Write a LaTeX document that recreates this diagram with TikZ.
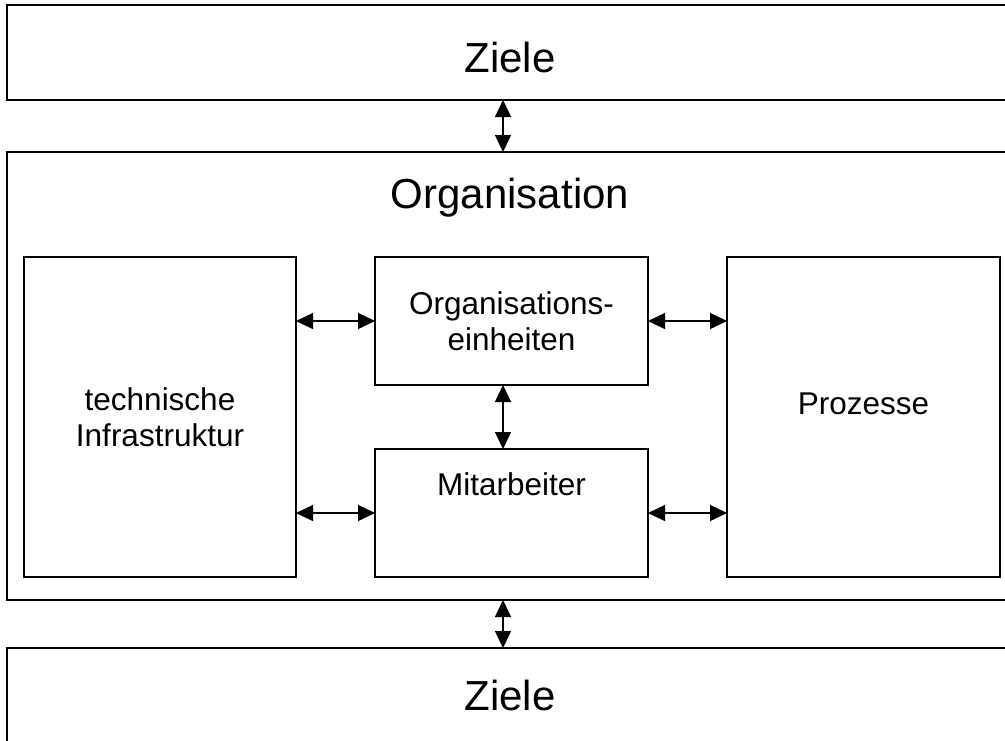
\documentclass[tikz,border=0pt]{standalone}
\usepackage{fontspec}
\setmainfont{Liberation Sans}
\usetikzlibrary{arrows.meta}
\begin{document}
\begin{tikzpicture}[x=1pt,y=-1pt,
  box/.style={draw, line width=1.5pt, inner sep=0pt, outer sep=0pt},
  bigtext/.style={font=\fontsize{42}{48}\selectfont, anchor=center},
  boxtext/.style={font=\fontsize{31.5}{36}\selectfont, align=center},
  link/.style={line width=1.5pt, {Triangle[length=17pt,width=16pt]}-{Triangle[length=17pt,width=16pt]}}]
\useasboundingbox (0,0) rectangle (1005,740);

%Shape: Rectangle [outer boxes]
\node [box, minimum width=1006pt, minimum height=95pt,
  label={[bigtext, yshift=-4.5pt]center:Ziele}] (zieleoben) at (510,52.5) {};
\node [box, minimum width=1006pt, minimum height=448pt,
  label={[bigtext, yshift=-46pt]north:Organisation}] (organisation) at (510,376) {};
\node [box, minimum width=1006pt, minimum height=95pt,
  label={[bigtext]center:Ziele}] (zieleunten) at (510,695.5) {};

%Shape: Rectangle [inner boxes]
\node [box, boxtext, minimum width=272pt, minimum height=320pt] (infra) at (160,417) {technische\\Infrastruktur};
\node [box, boxtext, minimum width=273pt, minimum height=128pt] (einheiten) at (511.5,321) {Organisations-\\einheiten};
\node [box, minimum width=273pt, minimum height=128pt,
  label={[boxtext, anchor=center, yshift=-35pt]north:Mitarbeiter}] (mitarbeiter) at (511.5,513) {};
\node [box, minimum width=273pt, minimum height=320pt,
  label={[boxtext, anchor=center, yshift=13pt]center:Prozesse}] (prozesse) at (863.5,417) {};

%Straight Lines [links]
\coordinate (achse) at (503,0);
\draw [link] (zieleoben.south -| achse) -- (organisation.north -| achse);
\draw [link] (organisation.south -| achse) -- (zieleunten.north -| achse);
\draw [link] (einheiten.south -| achse) -- (mitarbeiter.north -| achse);
\draw [link] (infra.east |- einheiten.west) -- (einheiten.west);
\draw [link] (infra.east |- mitarbeiter.west) -- (mitarbeiter.west);
\draw [link] (einheiten.east) -- (prozesse.west |- einheiten.east);
\draw [link] (mitarbeiter.east) -- (prozesse.west |- mitarbeiter.east);

\end{tikzpicture}
\end{document}
